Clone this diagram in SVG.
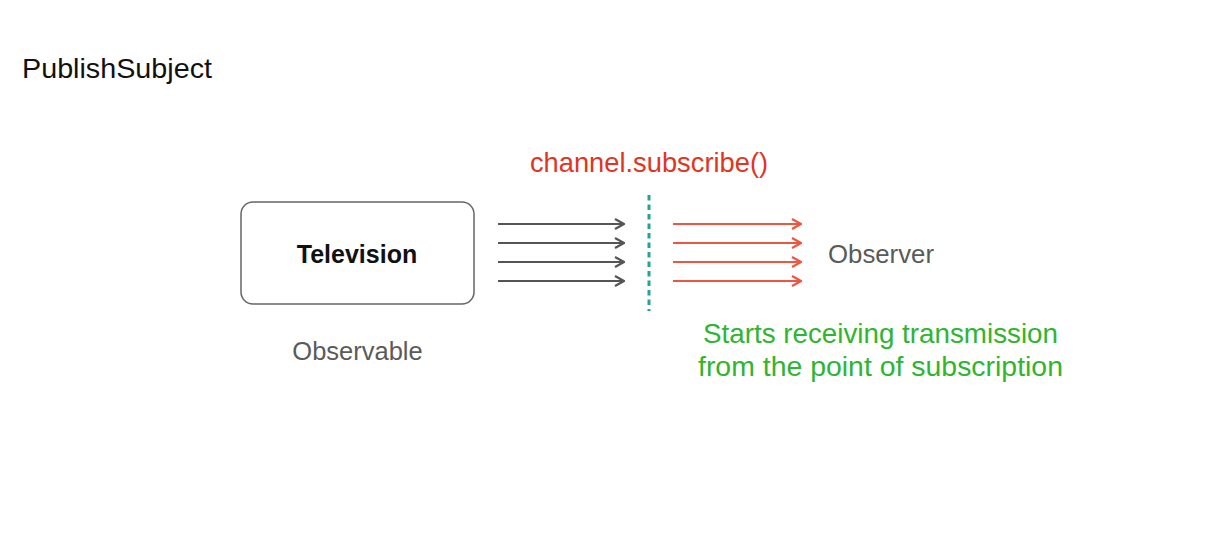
<svg xmlns="http://www.w3.org/2000/svg" width="1226" height="542" viewBox="0 0 1226 542">
<style>
text{font-family:"Liberation Sans",Arial,sans-serif}
.gray{stroke:#555;stroke-width:2.2;fill:none}
.red{stroke:#f0553f;stroke-width:2.2;fill:none}
.lbl{fill:#5a5a5a;font-size:25.5px}
.green{fill:#2fb52f;font-size:27.5px}
</style>
<defs>
<marker id="ag" viewBox="0 0 12 12" refX="11" refY="6" markerWidth="12" markerHeight="12" markerUnits="userSpaceOnUse" orient="auto"><path d="M2,1 L11,6 L2,11" fill="none" stroke="#555" stroke-width="2.2"/></marker>
<marker id="ar" viewBox="0 0 12 12" refX="11" refY="6" markerWidth="12" markerHeight="12" markerUnits="userSpaceOnUse" orient="auto"><path d="M2,1 L11,6 L2,11" fill="none" stroke="#f0553f" stroke-width="2.2"/></marker>
</defs>
<rect width="1226" height="542" fill="#fff"/>
<text x="22" y="78" font-size="28.5" fill="#111" textLength="190" lengthAdjust="spacingAndGlyphs">PublishSubject</text>
<g id="television">
<rect x="241" y="202" width="233" height="102" rx="12" fill="#fff" stroke="#666" stroke-width="1.5"/>
<text x="357" y="263" font-size="25" font-weight="bold" fill="#111" text-anchor="middle">Television</text>
</g>
<g id="observable"><text x="357.5" y="360" class="lbl" text-anchor="middle">Observable</text></g>
<g id="observer"><text x="828" y="263" class="lbl" textLength="106" lengthAdjust="spacingAndGlyphs">Observer</text></g>
<g id="subscribe"><text x="649" y="172" font-size="27.3" fill="#e2341f" text-anchor="middle">channel.subscribe()</text>
<line x1="649" y1="195" x2="649" y2="311" stroke="#25a395" stroke-width="3" stroke-dasharray="5.5 4"/></g>
<g id="note">
<text x="880.5" y="343" class="green" text-anchor="middle" textLength="355" lengthAdjust="spacingAndGlyphs">Starts receiving transmission</text>
<text x="880.5" y="376" class="green" text-anchor="middle" textLength="365" lengthAdjust="spacingAndGlyphs">from the point of subscription</text>
</g>
<g id="connectors">
<line x1="498" y1="224" x2="624" y2="224" class="gray" marker-end="url(#ag)"/>
<line x1="498" y1="243" x2="624" y2="243" class="gray" marker-end="url(#ag)"/>
<line x1="498" y1="262" x2="624" y2="262" class="gray" marker-end="url(#ag)"/>
<line x1="498" y1="281" x2="624" y2="281" class="gray" marker-end="url(#ag)"/>
<line x1="673" y1="224" x2="801" y2="224" class="red" marker-end="url(#ar)"/>
<line x1="673" y1="243" x2="801" y2="243" class="red" marker-end="url(#ar)"/>
<line x1="673" y1="262" x2="801" y2="262" class="red" marker-end="url(#ar)"/>
<line x1="673" y1="281" x2="801" y2="281" class="red" marker-end="url(#ar)"/>
</g>
</svg>
